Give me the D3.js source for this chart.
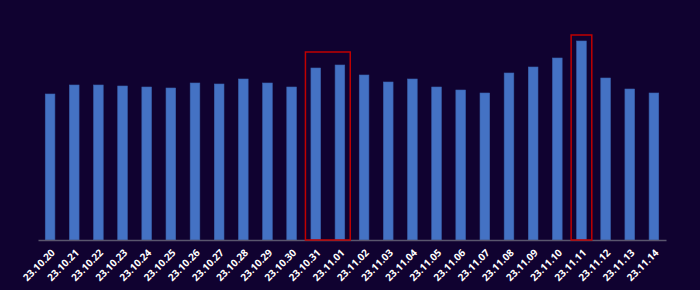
<!DOCTYPE html>
<html>
<head>
<meta charset="utf-8">
<script src="https://cdn.jsdelivr.net/npm/d3@7"></script>
<style>
  html, body { margin: 0; padding: 0; background: #100230; }
  svg { display: block; }
</style>
</head>
<body>
<svg id="chart" width="700" height="290"></svg>
<script>
const categories = ["23.10.20","23.10.21","23.10.22","23.10.23","23.10.24","23.10.25","23.10.26","23.10.27","23.10.28","23.10.29","23.10.30","23.10.31","23.11.01","23.11.02","23.11.03","23.11.04","23.11.05","23.11.06","23.11.07","23.11.08","23.11.09","23.11.10","23.11.11","23.11.12","23.11.13","23.11.14"];
const values = [146, 155, 155, 154, 153, 152, 157, 156, 161, 157, 153, 172, 175, 165, 158, 161, 153, 150, 147, 167, 173, 182, 199, 162, 151, 147];
// highlighted groups: [first category, last category, top value of frame]
const highlightStart = ["23.10.31", "23.11.11"];
const highlightEnd = ["23.11.01", "23.11.11"];
const highlightTop = [188, 205];

const W = 700, H = 290;
const margin = { left: 38, right: 34, top: 20, bottom: 50 };
const svg = d3.select("#chart");
svg.append("rect").attr("width", W).attr("height", H).attr("fill", "#100230");

const x = d3.scaleBand()
  .domain(categories)
  .range([margin.left, W - margin.right])
  .paddingInner(0.6)
  .paddingOuter(0.3);

const y = d3.scaleLinear()
  .domain([0, 220])
  .range([H - margin.bottom, margin.top]);

svg.append("g")
  .selectAll("rect")
  .data(categories)
  .join("rect")
  .attr("x", d => x(d))
  .attr("width", x.bandwidth())
  .attr("y", (d, i) => y(values[i]))
  .attr("height", (d, i) => y(0) - y(values[i]))
  .attr("fill", "#4472c4")
  .attr("stroke", "#3a62ad")
  .attr("stroke-width", 0.6);

// axis
const axis = svg.append("g")
  .attr("transform", `translate(0,${y(0)})`)
  .call(d3.axisBottom(x).tickSize(0).tickPadding(0));
axis.select(".domain").attr("stroke", "#5a566e").attr("stroke-width", 1.5);
axis.selectAll(".tick text")
  .attr("fill", "#ffffff")
  .attr("font-family", "'Open Sans', sans-serif")
  .attr("font-weight", "bold")
  .attr("font-size", 10)
  .attr("text-anchor", "end")
  .attr("dy", "0.35em")
  .attr("transform", "translate(3,11) rotate(-45)");

// highlight frames
const padX = 5.5;
svg.append("g")
  .selectAll("rect")
  .data(highlightStart)
  .join("rect")
  .attr("x", (d, i) => x(d) - padX)
  .attr("y", (d, i) => y(highlightTop[i]))
  .attr("width", (d, i) => x(highlightEnd[i]) + x.bandwidth() - x(d) + 2 * padX)
  .attr("height", (d, i) => y(0) - y(highlightTop[i]))
  .attr("fill", "none")
  .attr("stroke", "#c00000")
  .attr("stroke-width", 1.5);
</script>
</body>
</html>
